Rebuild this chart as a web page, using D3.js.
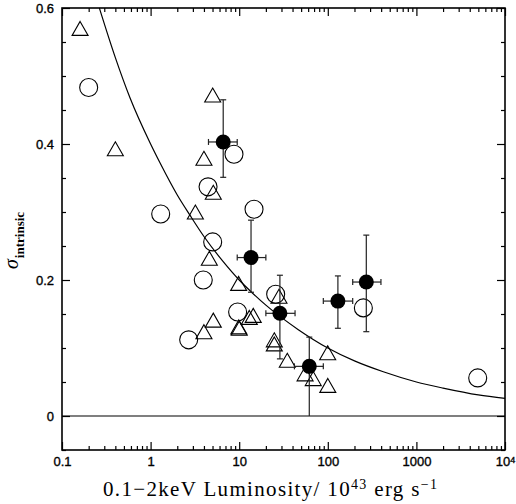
<!DOCTYPE html>
<html>
<head>
<meta charset="utf-8">
<script src="https://cdn.jsdelivr.net/npm/d3@7"></script>
<style>
  body { margin: 0; background: #fff; }
  svg { display: block; }
</style>
</head>
<body>
<svg id="chart-area" width="516" height="504"></svg>
<script>
// tick values / labels
var xMajor = [0.1, 1, 10, 100, 1000, 10000];
var xTickLabels = ["0.1", "1", "10", "100", "1000", "10^4"];
var yMajor = [0, 0.2, 0.4, 0.6];
var yMinor = [-0.05, 0.05, 0.1, 0.15, 0.25, 0.3, 0.35, 0.45, 0.5, 0.55];
var yTickLabels = ["0", "0.2", "0.4", "0.6"];

// filled points with error bars
var filledL      = [6.6, 13.6, 28.8, 61.8, 130, 272];
var filledSigma  = [0.403, 0.233, 0.151, 0.073, 0.169, 0.197];
var filledLLo    = [4.5, 9.5, 20, 42, 89, 191];
var filledLHi    = [9.5, 20, 42.7, 89, 191, 398];
var filledSigLo  = [0.351, 0.182, 0.084, 0.0, 0.129, 0.124];
var filledSigHi  = [0.465, 0.288, 0.207, 0.116, 0.206, 0.266];

// open circles
var circleL     = [0.2, 8.73, 4.45, 1.3, 14.7, 5.02, 3.93, 9.6, 2.69, 25.8, 252, 4920];
var circleSigma = [0.483, 0.385, 0.337, 0.297, 0.304, 0.256, 0.2, 0.153, 0.112, 0.179, 0.159, 0.056];

// open triangles
var triL     = [0.16, 0.4, 5.02, 4.0, 5.1, 3.2, 4.6, 9.86, 5.1, 4.0, 10, 9.9, 13.0, 14.4, 28.1, 24.9, 24.9, 34.9, 55.4, 68.5, 99.7, 100];
var triSigma = [0.570, 0.393, 0.472, 0.379, 0.329, 0.3, 0.232, 0.195, 0.141, 0.124, 0.129, 0.131, 0.145, 0.148, 0.176, 0.112, 0.106, 0.082, 0.062, 0.055, 0.093, 0.045];

// model curve
var curveL     = [0.264, 0.4, 0.585, 1, 1.28, 2, 2.79, 4, 6.6, 10, 13.8, 20, 46.5, 100, 200, 423, 1000, 2000, 5000, 10000];
var curveSigma = [0.6, 0.527, 0.468, 0.4, 0.372, 0.325, 0.295, 0.264, 0.227, 0.2, 0.182, 0.163, 0.127, 0.1, 0.081, 0.065, 0.05, 0.041, 0.031, 0.026];

var svg = d3.select("svg#chart-area");
var pLeft = 62, pRight = 505, pTop = 8, pBottom = 450;

var x = d3.scaleLog().domain([0.1, 10000]).range([pLeft, pRight]);
var y = d3.scaleLinear().domain([-0.05, 0.6]).range([pBottom, pTop]);

var xMinor = [];
xMajor.slice(0, -1).forEach(function(d) {
    for (var k = 2; k <= 9; k++) xMinor.push(d * k);
});

var tickFont = "'Liberation Sans', Arial, sans-serif";

function styleAxis(g) {
    g.select(".domain").remove();
    g.selectAll(".tick line").attr("stroke", "#000").attr("stroke-width", 1.2);
}

// bottom
svg.append("g").attr("transform", "translate(0," + pBottom + ")")
    .call(d3.axisBottom(x).tickValues(xMinor).tickSize(-4).tickFormat(""))
    .call(styleAxis);
var xb = svg.append("g").attr("transform", "translate(0," + pBottom + ")")
    .call(d3.axisBottom(x).tickValues(xMajor).tickSize(-8).tickPadding(7)
        .tickFormat(function(d, i) { return xTickLabels[i]; }))
    .call(styleAxis);
xb.selectAll("text")
    .attr("font-family", tickFont).attr("font-size", 13).attr("fill", "#000")
    .attr("stroke", "#000").attr("stroke-width", 0.35)
    .each(function(d, i) {
        var lab = xTickLabels[i];
        if (lab.indexOf("^") > -1) {
            var parts = lab.split("^");
            var t = d3.select(this).text(parts[0]);
            t.append("tspan").attr("dy", "-0.4em").attr("font-size", 9).text(parts[1]);
        }
    });

// top
svg.append("g").attr("transform", "translate(0," + pTop + ")")
    .call(d3.axisTop(x).tickValues(xMinor).tickSize(-4).tickFormat(""))
    .call(styleAxis);
svg.append("g").attr("transform", "translate(0," + pTop + ")")
    .call(d3.axisTop(x).tickValues(xMajor).tickSize(-8).tickFormat(""))
    .call(styleAxis);

// left
svg.append("g").attr("transform", "translate(" + pLeft + ",0)")
    .call(d3.axisLeft(y).tickValues(yMinor).tickSize(-4).tickFormat(""))
    .call(styleAxis);
svg.append("g").attr("transform", "translate(" + pLeft + ",0)")
    .call(d3.axisLeft(y).tickValues(yMajor).tickSize(-8).tickPadding(8)
        .tickFormat(function(d, i) { return yTickLabels[i]; }))
    .call(styleAxis)
    .selectAll("text")
    .attr("font-family", tickFont).attr("font-size", 13).attr("fill", "#000")
    .attr("stroke", "#000").attr("stroke-width", 0.35);

// right
svg.append("g").attr("transform", "translate(" + pRight + ",0)")
    .call(d3.axisRight(y).tickValues(yMinor).tickSize(-4).tickFormat(""))
    .call(styleAxis);
svg.append("g").attr("transform", "translate(" + pRight + ",0)")
    .call(d3.axisRight(y).tickValues(yMajor).tickSize(-8).tickFormat(""))
    .call(styleAxis);

// frame
svg.append("rect")
    .attr("x", pLeft).attr("y", pTop)
    .attr("width", pRight - pLeft).attr("height", pBottom - pTop)
    .attr("fill", "none").attr("stroke", "#000").attr("stroke-width", 1.6);

// zero line
svg.append("line")
    .attr("x1", pLeft).attr("x2", pRight)
    .attr("y1", y(0)).attr("y2", y(0))
    .attr("stroke", "#000").attr("stroke-width", 1.2);

// model curve
var curvePts = curveL.map(function(d, i) { return [d, curveSigma[i]]; });
var line = d3.line()
    .x(function(d) { return x(d[0]); })
    .y(function(d) { return y(d[1]); })
    .curve(d3.curveMonotoneX);
svg.append("path")
    .datum(curvePts)
    .attr("d", line)
    .attr("fill", "none").attr("stroke", "#000").attr("stroke-width", 1.2);

// open circles
svg.selectAll(".open-circle")
    .data(circleL.map(function(d, i) { return [d, circleSigma[i]]; }))
    .enter().append("circle")
    .attr("class", "open-circle")
    .attr("cx", function(d) { return x(d[0]); })
    .attr("cy", function(d) { return y(d[1]); })
    .attr("r", 9)
    .attr("fill", "none").attr("stroke", "#000").attr("stroke-width", 1.1);

// open triangles
var tw = 8, th = 7;
svg.selectAll(".open-tri")
    .data(triL.map(function(d, i) { return [d, triSigma[i]]; }))
    .enter().append("path")
    .attr("class", "open-tri")
    .attr("transform", function(d) { return "translate(" + x(d[0]) + "," + y(d[1]) + ")"; })
    .attr("d", "M0," + (-th) + "L" + tw + "," + th + "L" + (-tw) + "," + th + "Z")
    .attr("fill", "none").attr("stroke", "#000").attr("stroke-width", 1.1);

// filled points with error bars
var filled = filledL.map(function(d, i) {
    return {L: d, s: filledSigma[i], lLo: filledLLo[i], lHi: filledLHi[i], sLo: filledSigLo[i], sHi: filledSigHi[i]};
});
var cap = 3;
var eb = svg.selectAll(".errbar")
    .data(filled)
    .enter().append("g")
    .attr("class", "errbar")
    .attr("stroke", "#222").attr("stroke-width", 1.2);
eb.append("line")
    .attr("x1", function(d) { return x(d.L); }).attr("x2", function(d) { return x(d.L); })
    .attr("y1", function(d) { return y(d.sLo); }).attr("y2", function(d) { return y(d.sHi); });
eb.append("line")
    .attr("x1", function(d) { return x(d.lLo); }).attr("x2", function(d) { return x(d.lHi); })
    .attr("y1", function(d) { return y(d.s); }).attr("y2", function(d) { return y(d.s); });
eb.append("line")
    .attr("x1", function(d) { return x(d.L) - cap; }).attr("x2", function(d) { return x(d.L) + cap; })
    .attr("y1", function(d) { return y(d.sHi); }).attr("y2", function(d) { return y(d.sHi); });
eb.filter(function(d) { return d.sLo > 0; }).append("line")
    .attr("x1", function(d) { return x(d.L) - cap; }).attr("x2", function(d) { return x(d.L) + cap; })
    .attr("y1", function(d) { return y(d.sLo); }).attr("y2", function(d) { return y(d.sLo); });
eb.append("line")
    .attr("x1", function(d) { return x(d.lLo); }).attr("x2", function(d) { return x(d.lLo); })
    .attr("y1", function(d) { return y(d.s) - cap; }).attr("y2", function(d) { return y(d.s) + cap; });
eb.append("line")
    .attr("x1", function(d) { return x(d.lHi); }).attr("x2", function(d) { return x(d.lHi); })
    .attr("y1", function(d) { return y(d.s) - cap; }).attr("y2", function(d) { return y(d.s) + cap; });
eb.append("circle")
    .attr("cx", function(d) { return x(d.L); })
    .attr("cy", function(d) { return y(d.s); })
    .attr("r", 7.5)
    .attr("fill", "#000").attr("stroke", "none");

// axis titles
var serif = "'Liberation Serif', 'Times New Roman', serif";
var xt = svg.append("text")
    .attr("x", 103).attr("y", 496)
    .attr("font-family", serif).attr("font-size", 21).attr("fill", "#000")
    .attr("textLength", 334).attr("lengthAdjust", "spacing");
xt.append("tspan").text("0.1\u22122keV Luminosity/ 10");
xt.append("tspan").attr("dy", -7).attr("font-size", 14).text("43");
xt.append("tspan").attr("dy", 7).text(" erg s");
xt.append("tspan").attr("dy", -7).attr("font-size", 14).text("\u22121");

var yt = svg.append("text")
    .attr("transform", "translate(18,269) rotate(-90)")
    .attr("font-family", serif).attr("fill", "#000");
yt.append("tspan").attr("font-size", 20).attr("font-style", "italic").text("\u03c3");
yt.append("tspan").attr("font-size", 13).attr("font-weight", "bold").attr("dy", 6).attr("dx", 1).text("intrinsic");
</script>
</body>
</html>
